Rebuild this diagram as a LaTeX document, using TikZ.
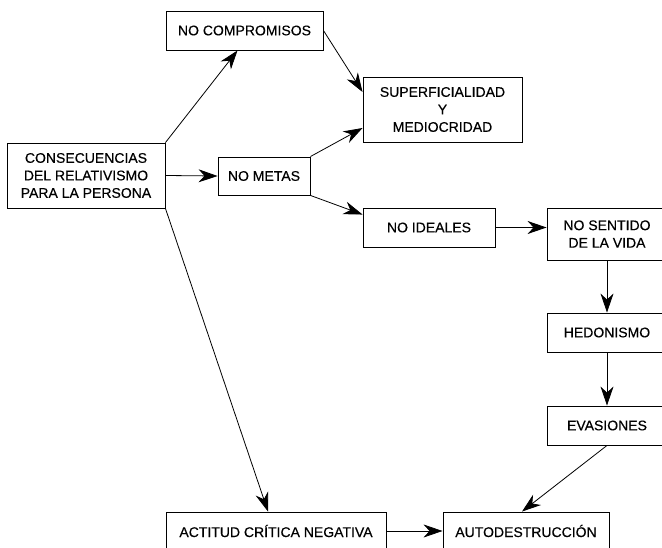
\documentclass[tikz,border=0pt]{standalone}
\usepackage{fontspec}
\setmainfont{Liberation Sans}[UprightFeatures={FakeBold=0.35}]
\usetikzlibrary{arrows.meta}
\begin{document}
\begin{tikzpicture}[x=1pt,y=-1pt,
  box/.style={draw=black,line width=0.9pt,inner sep=0pt,align=center,
    font=\fontsize{14}{17.5}\selectfont,fill=white},
  conn/.style={line width=0.8pt,-{Stealth[length=19pt,width=13pt,inset=6pt]}}]
\useasboundingbox (0,0) rectangle (662,548);
\clip (0,0) rectangle (662,548);
\fill[white] (0,0) rectangle (662,548);
\node[box,minimum width=158pt,minimum height=65pt] (cons) at (86,175.5) {CONSECUENCIAS\\DEL RELATIVISMO\\PARA LA PERSONA};
\node[box,minimum width=157pt,minimum height=39pt] (nc) at (244.5,30.5) {NO COMPROMISOS};
\node[box,minimum width=159pt,minimum height=65pt] (sup) at (442.5,109.5) {SUPERFICIALIDAD\\Y\\MEDIOCRIDAD};
\node[box,minimum width=92pt,minimum height=38pt] (nm) at (264,176) {NO METAS};
\node[box,minimum width=132pt,minimum height=39pt] (ni) at (429,227.5) {NO IDEALES};
\node[box,minimum width=120pt,minimum height=52pt] (ns) at (607,234) {NO SENTIDO\\DE LA VIDA};
\node[box,minimum width=120pt,minimum height=39pt] (hed) at (607,332.5) {HEDONISMO};
\node[box,minimum width=120pt,minimum height=39pt] (eva) at (607,425.5) {EVASIONES};
\node[box,minimum width=220pt,minimum height=38pt] (act) at (276,531) {ACTITUD CRÍTICA NEGATIVA};
\node[box,minimum width=166pt,minimum height=38pt] (aut) at (526,531) {AUTODESTRUCCIÓN};
\draw[conn] (cons.north east) -- ([xshift=-7pt]nc.south);
\draw[conn] (cons.east) -- (nm.west);
\draw[conn] (cons.south east) -- ([xshift=-8pt]act.north);
\draw[conn] (nc.east) -- ([yshift=17.5pt]sup.west);
\draw[conn] (nm.north east) -- ([yshift=-18.5pt]sup.west);
\draw[conn] (nm.south east) -- ([yshift=-7pt]ni.north west);
\draw[conn] (ni.east) -- (ni.east -| ns.west);
\draw[conn] (ns.south) -- (hed.north);
\draw[conn] (hed.south) -- (eva.north);
\draw[conn] (eva.south) -- ([xshift=-4pt]aut.north);
\draw[conn] (act.east) -- (aut.west);
\end{tikzpicture}
\end{document}
